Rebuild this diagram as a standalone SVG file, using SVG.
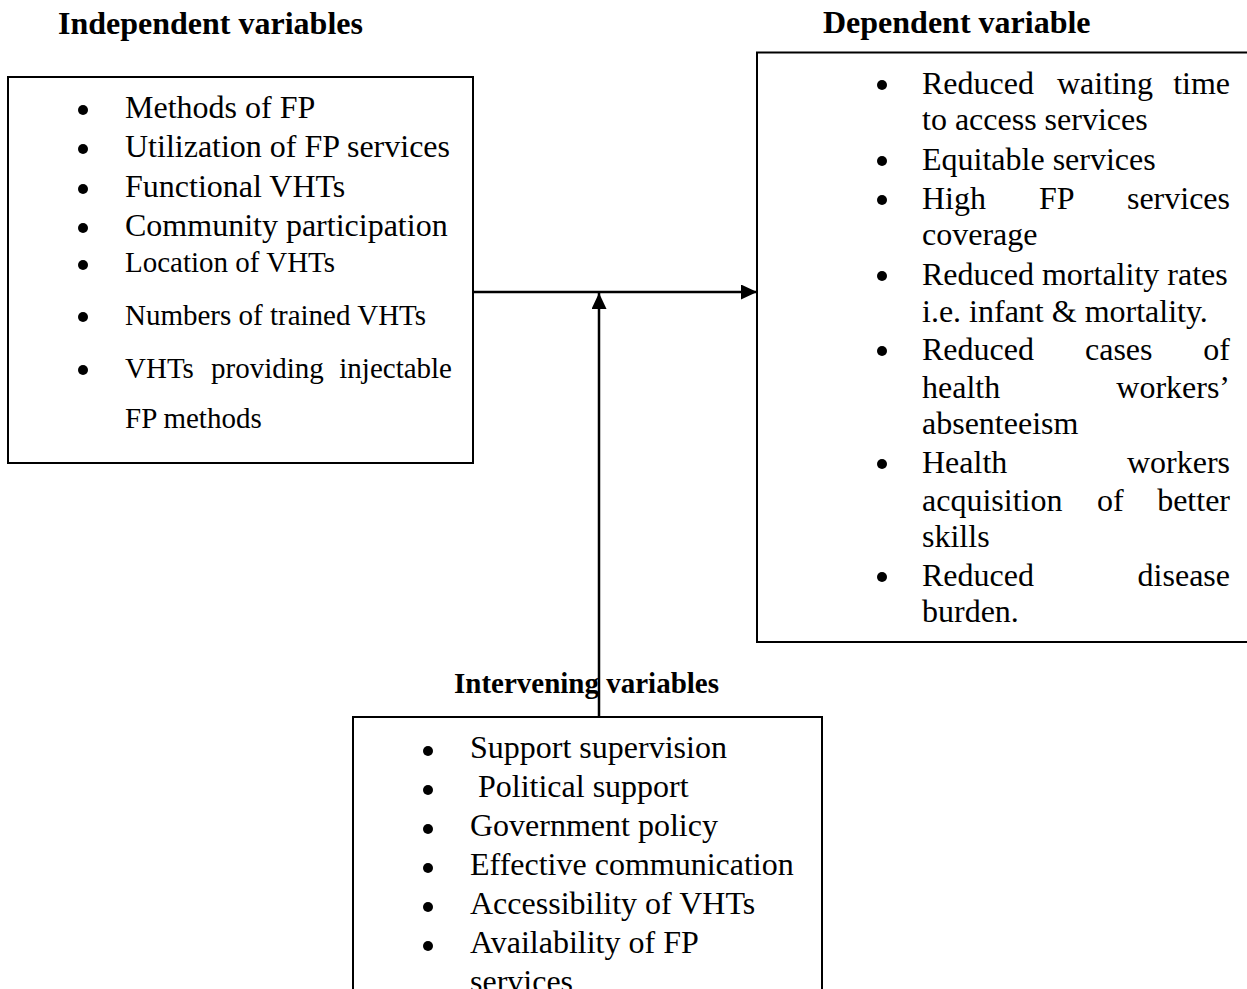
<svg xmlns="http://www.w3.org/2000/svg" width="1247" height="989" viewBox="0 0 1247 989">
<style>
text{font-family:"Liberation Serif","Times New Roman",serif;fill:#000}
.t{font-size:32px}
.s{font-size:29px}
.h{font-size:32px;font-weight:bold}
.hs{font-size:29px;font-weight:bold}
.box{fill:none;stroke:#000;stroke-width:2}
.e{text-anchor:end}
.con{stroke:#000;stroke-width:2.5;fill:none}
</style>
<defs>
<marker id="arr" markerUnits="userSpaceOnUse" markerWidth="16" markerHeight="15" refX="16" refY="7.5" orient="auto">
<path d="M0,0 L16,7.5 L0,15 z" fill="#000"/>
</marker>
</defs>
<rect width="1247" height="989" fill="#fff"/>

<g id="independent">
<text class="h" x="58" y="34">Independent variables</text>
<rect class="box" x="8" y="77" width="465" height="386"/>
<g fill="#000">
<circle cx="83" cy="110" r="5"/><circle cx="83" cy="149" r="5"/><circle cx="83" cy="189" r="5"/>
<circle cx="83" cy="228" r="5"/><circle cx="83" cy="265" r="5"/><circle cx="83" cy="317" r="5"/>
<circle cx="83" cy="370" r="5"/>
</g>
<text class="t" x="125" y="118">Methods of FP</text>
<text class="t" x="125" y="157">Utilization of FP services</text>
<text class="t" x="125" y="197">Functional VHTs</text>
<text class="t" x="125" y="236">Community participation</text>
<text class="s" x="125" y="272">Location of VHTs</text>
<text class="s" x="125" y="325">Numbers of trained VHTs</text>
<text class="s" x="125" y="378">VHTs</text>
<text class="s" x="211" y="378">providing</text>
<text class="s e" x="452" y="378">injectable</text>
<text class="s" x="125" y="428">FP methods</text>
</g>

<g id="dependent">
<text class="h" x="823" y="33">Dependent variable</text>
<path class="box" d="M1260,52.5 H757 V642 H1260"/>
<g fill="#000">
<circle cx="882" cy="85" r="5"/><circle cx="882" cy="161" r="5"/><circle cx="882" cy="200" r="5"/>
<circle cx="882" cy="276" r="5"/><circle cx="882" cy="351" r="5"/><circle cx="882" cy="464" r="5"/>
<circle cx="882" cy="577" r="5"/>
</g>
<text class="t" x="922" y="94">Reduced</text><text class="t" x="1057" y="94">waiting</text><text class="t e" x="1230" y="94">time</text>
<text class="t" x="922" y="130">to access services</text>
<text class="t" x="922" y="170">Equitable services</text>
<text class="t" x="922" y="209">High</text><text class="t" x="1039" y="209">FP</text><text class="t e" x="1230" y="209">services</text>
<text class="t" x="922" y="245">coverage</text>
<text class="t" x="922" y="285">Reduced mortality rates</text>
<text class="t" x="922" y="322">i.e. infant &amp; mortality.</text>
<text class="t" x="922" y="360">Reduced</text><text class="t" x="1085" y="360">cases</text><text class="t e" x="1230" y="360">of</text>
<text class="t" x="922" y="398">health</text><text class="t e" x="1230" y="398">workers’</text>
<text class="t" x="922" y="434">absenteeism</text>
<text class="t" x="922" y="473">Health</text><text class="t e" x="1230" y="473">workers</text>
<text class="t" x="922" y="511">acquisition</text><text class="t" x="1097" y="511">of</text><text class="t e" x="1230" y="511">better</text>
<text class="t" x="922" y="547">skills</text>
<text class="t" x="922" y="586">Reduced</text><text class="t e" x="1230" y="586">disease</text>
<text class="t" x="922" y="622">burden.</text>
</g>

<g id="intervening">
<text class="hs" x="454" y="693">Intervening variables</text>
<path class="box" d="M353,1000 V717 H822 V1000"/>
<g fill="#000">
<circle cx="428" cy="751" r="5"/><circle cx="428" cy="790" r="5"/><circle cx="428" cy="829" r="5"/>
<circle cx="428" cy="868" r="5"/><circle cx="428" cy="907" r="5"/><circle cx="428" cy="946" r="5"/>
</g>
<text class="t" x="470" y="758">Support supervision</text>
<text class="t" x="478" y="797">Political support</text>
<text class="t" x="470" y="836">Government policy</text>
<text class="t" x="470" y="875">Effective communication</text>
<text class="t" x="470" y="914">Accessibility of VHTs</text>
<text class="t" x="470" y="953">Availability of FP</text>
<text class="t" x="470" y="992">services</text>
</g>

<g id="connectors">
<line class="con" x1="473" y1="292" x2="757" y2="292" marker-end="url(#arr)"/>
<line class="con" x1="599" y1="716" x2="599" y2="293" marker-end="url(#arr)"/>
</g>
</svg>
